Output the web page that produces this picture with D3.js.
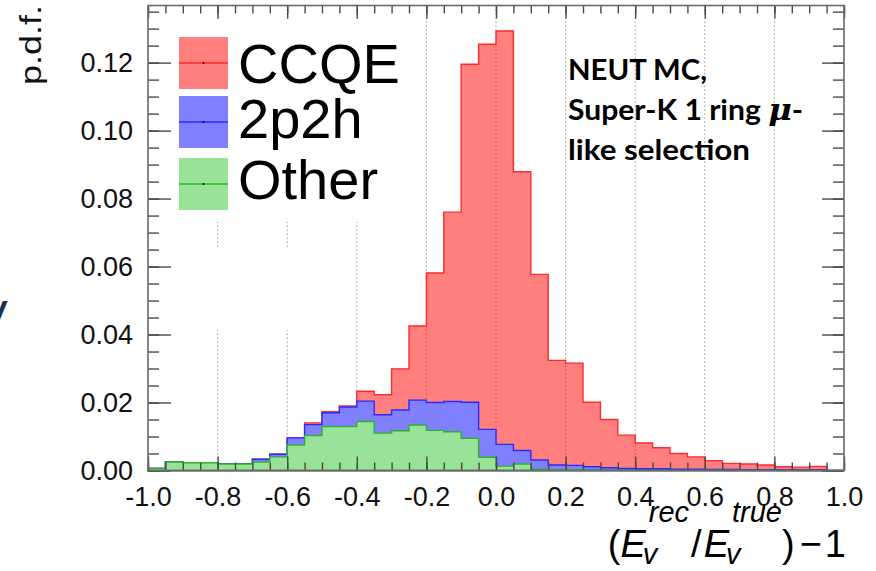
<!DOCTYPE html>
<html><head><meta charset="utf-8">
<script src="https://cdn.jsdelivr.net/npm/d3@7"></script>
<style>body{margin:0;background:#fff;} svg{display:block;}</style>
</head><body>
<svg id="c" width="876" height="571"></svg>
<script>
// ---- data (bin lower edges, width 0.05) ----
const binStart = [-1.00,-0.95,-0.90,-0.85,-0.80,-0.75,-0.70,-0.65,-0.60,-0.55,-0.50,-0.45,-0.40,-0.35,-0.30,-0.25,-0.20,-0.15,-0.10,-0.05,
                   0.00, 0.05, 0.10, 0.15, 0.20, 0.25, 0.30, 0.35, 0.40, 0.45, 0.50, 0.55, 0.60, 0.65, 0.70, 0.75, 0.80, 0.85, 0.90, 0.95];
const binEnd = 1.0;
const other  = [.0006,.0025,.0023,.0023,.0019,.0019,.0025,.0040,.0075,.0103,.0129,.0129,.0144,.0110,.0117,.0134,.0118,.0114,.0095,.0039,
                .0013,.0019,.0004,.0002,.0002,.0001,.0001,0,0,0,0,0,0,0,0,0,0,0,0,0];
const twop2h = [0,0,0,0,0,0,.0008,.0008,.0021,.0032,.0041,.0058,.0060,.0054,.0061,.0073,.0082,.0089,.0106,.0082,
                .0064,.0040,.0027,.0014,.0013,.0010,.0007,.0006,.0005,.0005,.0004,.0004,.0003,.0003,.0002,.0002,.0002,.0002,.0002,0];
const ccqe   = [0,0,0,0,0,0,0,0,0,.0005,.0003,.0003,.0029,.0059,.0121,.0218,.0381,.0557,.0994,.1133,
                .1216,.0820,.0546,.0308,.0301,.0190,.0142,.0098,.0076,.0062,.0046,.0036,.0026,.0018,.0017,.0014,.0009,.0008,.0010,0];
const seriesNames = ["CCQE","2p2h","Other"];
const yTicks = [0,0.02,0.04,0.06,0.08,0.10,0.12];
const yTickLabels = ["0.00","0.02","0.04","0.06","0.08","0.10","0.12"];
const xTicks = [-1.0,-0.8,-0.6,-0.4,-0.2,0.0,0.2,0.4,0.6,0.8,1.0];
const xTickLabels = ["-1.0","-0.8","-0.6","-0.4","-0.2","0.0","0.2","0.4","0.6","0.8","1.0"];
const annotation = ["NEUT MC,","Super-K 1 ring ","like selection"];

// ---- layout ----
const L=148, R=844, T=5.5, B=470.5;
const svg = d3.select("#c");
const x = d3.scaleLinear().domain([-1,1]).range([L,R]);
const y = d3.scaleLinear().domain([0,0.1368]).range([B,T]);
const FONT = "'Liberation Sans', Arial, Helvetica, sans-serif";

// stacked data
const rows = binStart.map((s,i)=>({x:s, other:other[i], twop2h:twop2h[i], ccqe:ccqe[i]}));
const stack = d3.stack().keys(["other","twop2h","ccqe"])(rows);

// grid
svg.append("g").selectAll("line").data(xTicks.slice(1,-1)).join("line")
  .attr("x1",d=>x(d)).attr("x2",d=>x(d)).attr("y1",T).attr("y2",B)
  .attr("stroke","#9a9a9a").attr("stroke-width",1).attr("stroke-dasharray","1.5,2.5");

// white boxes (legend background, slide text box)
svg.append("rect").attr("x",165).attr("y",20).attr("width",245).attr("height",202).attr("fill","#fff");
svg.append("rect").attr("x",0).attr("y",247).attr("width",320).attr("height",83).attr("fill","#fff");

// histograms (cumulative, drawn top layer first)
const area = d3.area().curve(d3.curveStepAfter)
  .x(d=>x(d.x)).y0(y(0)).y1(d=>y(d.v));
const styles = {
  ccqe:  {fill:"rgba(255,0,0,0.5)", stroke:"#ff2a2a"},
  twop2h:{fill:"#8080ff", stroke:"#2a2aff"},
  other: {fill:"#98e398", stroke:"#30b030"}
};
["ccqe","twop2h","other"].forEach(k=>{
  const layer = stack.find(s=>s.key===k);
  const pts = layer.map((d,i)=>({x:binStart[i], v:d[1]}));
  pts.push({x:binEnd, v:layer[layer.length-1][1]});
  svg.append("path").attr("d",area(pts))
    .attr("fill",styles[k].fill).attr("stroke",styles[k].stroke)
    .attr("stroke-width",1.4).attr("stroke-linejoin","miter");
});

// axes / ticks
const tickCol = "#4a4a4a";
function styleAxis(g){ g.select(".domain").remove(); g.selectAll(".tick line").attr("stroke",tickCol).attr("stroke-width",1.4); }
const xMinor = d3.range(-1,1.0001,0.05);
const yMinor = d3.range(0,0.1366,0.005);

svg.append("g").attr("transform",`translate(0,${B})`)
  .call(d3.axisBottom(x).tickValues(xMinor).tickSizeInner(-8).tickSizeOuter(0).tickFormat("")).call(styleAxis);
svg.append("g").attr("transform",`translate(0,${B})`)
  .call(d3.axisBottom(x).tickValues(xTicks).tickFormat((d,i)=>xTickLabels[i]).tickSizeInner(-14).tickSizeOuter(0).tickPadding(16))
  .call(styleAxis)
  .call(g=>g.selectAll("text").attr("font-family",FONT).attr("font-size",27).attr("fill","#111"));
svg.append("g").attr("transform",`translate(0,${T})`)
  .call(d3.axisTop(x).tickValues(xMinor).tickSizeInner(-8).tickSizeOuter(0).tickFormat("")).call(styleAxis);
svg.append("g").attr("transform",`translate(0,${T})`)
  .call(d3.axisTop(x).tickValues(xTicks).tickSizeInner(-13).tickSizeOuter(0).tickFormat("")).call(styleAxis);

svg.append("g").attr("transform",`translate(${L},0)`)
  .call(d3.axisLeft(y).tickValues(yMinor).tickSizeInner(-11).tickSizeOuter(0).tickFormat("")).call(styleAxis);
svg.append("g").attr("transform",`translate(${L},0)`)
  .call(d3.axisLeft(y).tickValues(yTicks).tickFormat((d,i)=>yTickLabels[i]).tickSizeInner(-23).tickSizeOuter(0).tickPadding(15))
  .call(styleAxis)
  .call(g=>g.selectAll("text").attr("font-family",FONT).attr("font-size",27).attr("fill","#111"));
svg.append("g").attr("transform",`translate(${R},0)`)
  .call(d3.axisRight(y).tickValues(yMinor).tickSizeInner(-11).tickSizeOuter(0).tickFormat("")).call(styleAxis);
svg.append("g").attr("transform",`translate(${R},0)`)
  .call(d3.axisRight(y).tickValues(yTicks).tickSizeInner(-22).tickSizeOuter(0).tickFormat("")).call(styleAxis);

// frame
svg.append("rect").attr("x",L).attr("y",T).attr("width",R-L).attr("height",B-T)
  .attr("fill","none").attr("stroke","#6a6a6a").attr("stroke-width",1.6);

// y label
svg.append("text").attr("transform","translate(41,5) rotate(-90)")
  .attr("text-anchor","end").attr("font-family",FONT).attr("font-size",30)
  .attr("textLength",80).attr("lengthAdjust","spacingAndGlyphs").attr("fill","#111").text("p.d.f.");

// legend
const legKeys = ["ccqe","twop2h","other"];
const legTop = [37,96,158], legBase = [83,138,199];
seriesNames.forEach((n,i)=>{
  const st = styles[legKeys[i]];
  svg.append("rect").attr("x",179).attr("y",legTop[i]).attr("width",49).attr("height",52).attr("fill",st.fill);
  svg.append("line").attr("x1",179).attr("x2",228).attr("y1",legTop[i]+26).attr("y2",legTop[i]+26)
    .attr("stroke",st.stroke).attr("stroke-width",1.4);
  svg.append("circle").attr("cx",203.5).attr("cy",legTop[i]+26).attr("r",0.9).attr("fill","#000");
  svg.append("text").attr("x",238).attr("y",legBase[i]).attr("font-family",FONT).attr("font-size",56)
    .attr("fill","#000").text(n);
});

// annotation
const AF = "Lato, 'Open Sans', sans-serif";
const an = svg.append("g").attr("font-family",AF).attr("font-weight","bold").attr("font-size",28).attr("fill","#000");
an.append("text").attr("x",568).attr("y",80).attr("textLength",139).attr("lengthAdjust","spacingAndGlyphs").text(annotation[0]);
const l2 = an.append("text").attr("x",568).attr("y",120).attr("textLength",235).attr("lengthAdjust","spacingAndGlyphs");
l2.append("tspan").text(annotation[1]);
l2.append("tspan").attr("font-family","'DejaVu Serif', serif").attr("font-style","italic").attr("font-size",30).text("μ");
l2.append("tspan").text("-");
an.append("text").attr("x",568).attr("y",160).attr("textLength",182).attr("lengthAdjust","spacingAndGlyphs").text(annotation[2]);

// x title: (E_v^rec / E_v^true) - 1
const xt = svg.append("g").attr("font-family",FONT).attr("fill","#000");
let cx = 0;
function put(txt,size,ital,yy,xx){ const t = xt.append("text").attr("x",xx).attr("y",yy).attr("font-size",size)
  .attr("font-style",ital?"italic":"normal").text(txt); return t.node().getComputedTextLength(); }
function main(txt,ital){ cx += put(txt,38,ital,0,cx); }
function supsub(sup,sub){ const s0 = cx; const w1 = put(sup,29,true,-35,s0+3); put(sub,29,true,7,s0-3); cx = s0 + 3 + w1; }
main("(",false); main("E",true); supsub("rec","v"); cx += 2; main("/",false); cx += 2; main("E",true); supsub("true","v");
main(")",false); cx += 5; main("−",false); cx += 3; main("1",false);
xt.attr("transform",`translate(${846-cx},557)`);

// stray slide glyph at left edge
svg.append("text").attr("x",7.5).attr("y",322).attr("text-anchor","end").attr("font-family",AF)
  .attr("font-weight","bold").attr("font-size",40).attr("fill","#1b2f4e").text("y");
</script>
</body></html>
